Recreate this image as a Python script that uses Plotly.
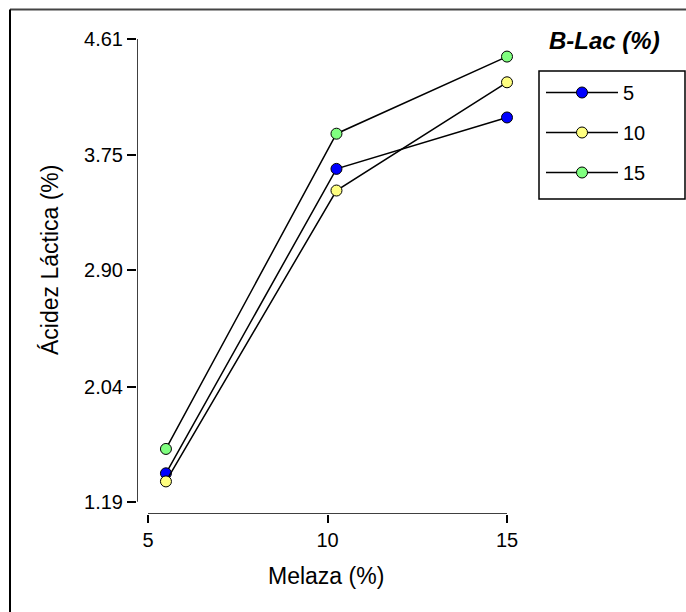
import plotly.graph_objects as go

# ---- data ----
melaza = [5.5, 10.25, 15]
series_names = ["5", "10", "15"]
acidez_5 = [1.40, 3.65, 4.03]
acidez_10 = [1.34, 3.49, 4.29]
acidez_15 = [1.58, 3.91, 4.48]
y_tickvals = [1.19, 2.04, 2.90, 3.75, 4.61]
y_ticktext = ["1.19", "2.04", "2.90", "3.75", "4.61"]
x_tickvals = [5, 10, 15]
colors = ["#0000FF", "#FFFF80", "#80FF80"]

W, H = 686, 612
ML, MR, MT, MB = 137, 169, 30, 98
px_x = 35.9
px_y = 135.4
x_min = 5 - (148 - ML) / px_x
x_max = 15 + (W - MR - 507) / px_x
y_min = 1.19 - (H - MB - 501.7) / px_y
y_max = 4.61 + (39 - MT) / px_y
PW = W - ML - MR
PH = H - MT - MB

def px2paper_x(p):
    return (p - ML) / PW

def px2paper_y(p):
    return (H - MB - p) / PH

FONT = "Liberation Sans, Arial, sans-serif"

fig = go.Figure()
for name, vals, col in zip(series_names, [acidez_5, acidez_10, acidez_15], colors):
    fig.add_trace(go.Scatter(
        x=melaza, y=vals, name=name, mode="lines+markers",
        legendgroup=name,
        line=dict(color="black", width=1.5),
        marker=dict(size=11, color=col, line=dict(color="black", width=1)),
    ))

shapes = [
    # y axis line
    dict(type="line", xref="x", yref="y", x0=x_min, x1=x_min, y0=y_tickvals[0], y1=y_tickvals[-1],
         line=dict(color="black", width=1.5)),
    # x axis line
    dict(type="line", xref="x", yref="y", x0=x_tickvals[0], x1=x_tickvals[-1], y0=y_min, y1=y_min,
         line=dict(color="black", width=1.5)),
    # outer frame (top and left)
    dict(type="line", xref="paper", yref="paper", x0=px2paper_x(10), x1=px2paper_x(W + 5),
         y0=px2paper_y(9.5), y1=px2paper_y(9.5), line=dict(color="#444444", width=2)),
    dict(type="line", xref="paper", yref="paper", x0=px2paper_x(10), x1=px2paper_x(10),
         y0=px2paper_y(9.5), y1=px2paper_y(H + 5), line=dict(color="black", width=2)),
    # legend box
    dict(type="rect", xref="paper", yref="paper", x0=px2paper_x(539), x1=px2paper_x(685),
         y0=px2paper_y(71), y1=px2paper_y(199), line=dict(color="black", width=1.5)),
]

annotations = [
    dict(text="Melaza (%)", xref="paper", yref="paper", x=px2paper_x(326), y=px2paper_y(576),
         showarrow=False, font=dict(family=FONT, size=23, color="black"),
         xanchor="center", yanchor="middle"),
    dict(text="Ácidez Láctica (%)", xref="paper", yref="paper", x=px2paper_x(50), y=px2paper_y(260),
         showarrow=False, textangle=-90, font=dict(family=FONT, size=23, color="black"),
         xanchor="center", yanchor="middle"),
    dict(text="<b><i>B-Lac (%)</i></b>", xref="paper", yref="paper", x=px2paper_x(604), y=px2paper_y(40),
         showarrow=False, font=dict(family=FONT, size=24, color="black"),
         xanchor="center", yanchor="middle"),
]

fig.update_layout(
    width=W, height=H,
    margin=dict(l=ML, r=MR, t=MT, b=MB, pad=0),
    paper_bgcolor="white", plot_bgcolor="white",
    font=dict(family=FONT, size=20, color="black"),
    xaxis=dict(range=[x_min, x_max], tickvals=x_tickvals, ticks="outside", ticklen=8,
               tickwidth=1.5, tickcolor="black", showgrid=False, zeroline=False, showline=False,
               tickfont=dict(family=FONT, size=20, color="black")),
    yaxis=dict(range=[y_min, y_max], tickvals=y_tickvals, ticktext=y_ticktext, ticks="outside",
               ticklen=9, tickwidth=1.5, tickcolor="black", showgrid=False, zeroline=False,
               showline=False, tickfont=dict(family=FONT, size=20, color="black")),
    showlegend=True,
    legend=dict(x=px2paper_x(541), y=px2paper_y(73), xanchor="left", yanchor="top",
                borderwidth=0, bgcolor="rgba(0,0,0,0)",
                font=dict(family=FONT, size=20, color="black"),
                tracegroupgap=11, itemwidth=72),
    shapes=shapes,
    annotations=annotations,
)

fig.write_html("out.html")
